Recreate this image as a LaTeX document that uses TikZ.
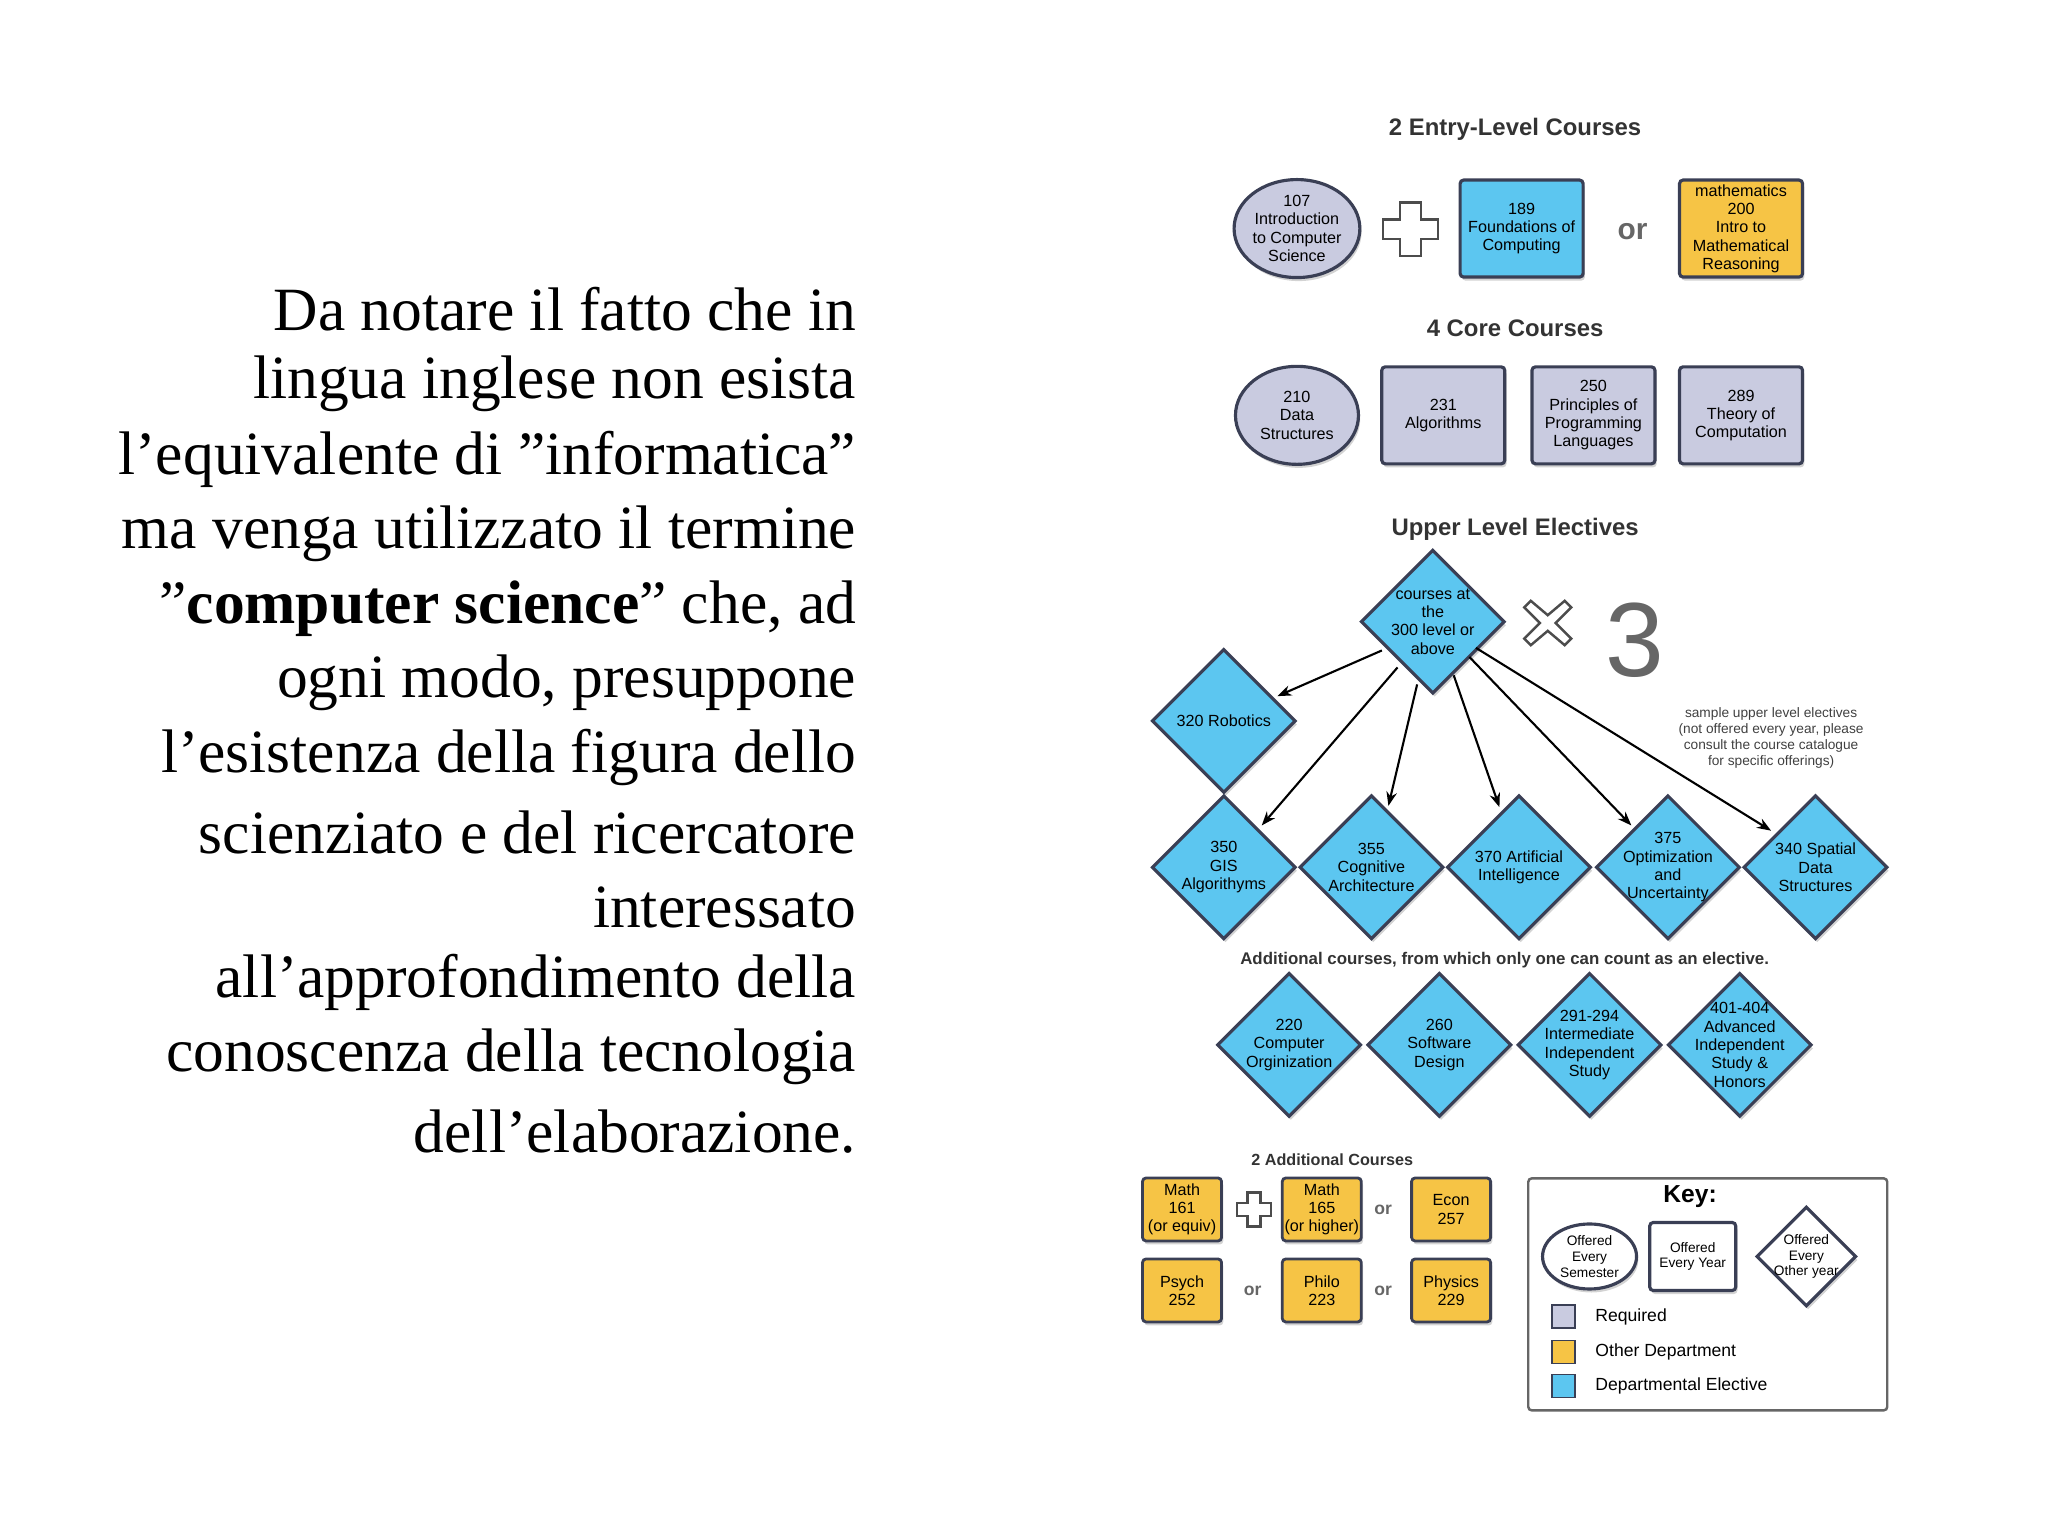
\documentclass[tikz,border=0pt]{standalone}
\usepackage{fontspec}
\setmainfont{Liberation Serif}
\newfontfamily\dsans{Liberation Sans}
\usetikzlibrary{shapes.geometric,shadows,arrows.meta}
\begin{document}
\begin{tikzpicture}[x=0.01306cm,y=-0.01306cm,
 every node/.style={font=\dsans\fontsize{4.6}{5.2}\selectfont,align=center,inner sep=0pt},
 sh/.style={drop shadow={shadow xshift=0.5pt,shadow yshift=-1pt,opacity=0.35}},
 lav/.style={fill=lav},
 blu/.style={fill=blu},
 org/.style={fill=org},
 ell/.style={ellipse,draw=edge,line width=0.9pt,minimum width=1.23cm,minimum height=0.98cm,sh},
 bx/.style={rectangle,rounded corners=1pt,draw=edge,line width=0.9pt,minimum width=1.23cm,minimum height=0.97cm,sh},
 sbx/.style={rectangle,rounded corners=1pt,draw=edge,line width=0.8pt,org,minimum width=0.79cm,minimum height=0.63cm,sh},
 dia/.style={diamond,shape aspect=1,draw=edge,line width=0.9pt,blu,minimum width=1.44cm,minimum height=1.44cm,sh},
 ttl/.style={font=\dsans\bfseries\fontsize{6.8}{8}\selectfont,text=black!80},
 orr/.style={font=\dsans\bfseries\fontsize{8.5}{9}\selectfont,text=black!60},
 sor/.style={font=\dsans\bfseries\fontsize{5}{6}\selectfont,text=black!60},
 plus/.style={draw=black!70,fill=white,line width=0.7pt},
 arr/.style={-{Stealth[length=4pt]},line width=0.6pt},
 big/.style={font=\fontsize{17.5}{21}\selectfont,anchor=east}]
\definecolor{lav}{HTML}{C9CBE0}
\definecolor{blu}{HTML}{5CC6F0}
\definecolor{org}{HTML}{F6C445}
\definecolor{edge}{HTML}{3A3F55}
\useasboundingbox (0,0) rectangle (1568,1175);
% left text
\foreach \t [count=\i from 0] in {Da notare il fatto che in,lingua inglese non esista,l'equivalente di "informatica",ma venga utilizzato il termine,"\textbf{computer science}" che{,} ad,ogni modo{,} presuppone,l'esistenza della figura dello,scienziato e del ricercatore,interessato,all'approfondimento della,conoscenza della tecnologia,dell'elaborazione.}
  \node[big] (L\i) at (656,{237+57.2*\i}) {\t};
% entry-level
\node[ttl] (t1) at (1160,99) {2 Entry-Level Courses};
\node[ell,lav] (c107) at (993,175) {107\\Introduction\\to Computer\\Science};
\path[plus] (1072,155) -- (1088,155) -- (1088,168) -- (1101,168) -- (1101,183) -- (1088,183) -- (1088,196) -- (1072,196) -- (1072,183) -- (1059,183) -- (1059,168) -- (1072,168) -- cycle;
\node[bx,blu] (c189) at (1165,175) {189\\Foundations of\\Computing};
\node[orr] (or1) at (1250,177) {or};
\node[bx,org] (m200) at (1333,175) {mathematics\\200\\Intro to\\Mathematical\\Reasoning};
% core
\node[ttl] (t2) at (1160,251) {4 Core Courses};
\node[ell,lav] (c210) at (993,318) {210\\Data\\Structures};
\node[bx,lav] (c231) at (1105,318) {231\\Algorithms};
\node[bx,lav] (c250) at (1220,318) {250\\Principles of\\Programming\\Languages};
\node[bx,lav] (c289) at (1333,318) {289\\Theory of\\Computation};
% electives
\node[ttl] (t3) at (1160,405) {Upper Level Electives};
\node[dia] (top) at (1097,476) {};
\node at (top) {courses at\\the\\300 level or\\above};
\path[plus] (1172,460) -- (1185,471) -- (1198,460) -- (1203,465) -- (1191,477) -- (1203,489) -- (1198,494) -- (1185,483) -- (1172,494) -- (1167,489) -- (1179,477) -- (1167,465) -- cycle;
\node[font=\dsans\fontsize{30}{30}\selectfont,text=black!60] (three) at (1252,490) {3};
\node[font=\dsans\fontsize{3.9}{4.6}\selectfont,text=black!75] (samp) at (1356,565) {sample upper level electives\\(not offered every year, please\\consult the course catalogue\\for specific offerings)};
\node[dia] (r320) at (937,552) {}; \node at (r320) {320 Robotics};
\node[dia] (r350) at (937,664) {}; \node at (r350) {350\\GIS\\Algorithyms};
\node[dia] (r355) at (1050,664) {}; \node at (r355) {355\\Cognitive\\Architecture};
\node[dia] (r370) at (1163,664) {}; \node at (r370) {370 Artificial\\Intelligence};
\node[dia] (r375) at (1277,664) {}; \node at (r375) {375\\Optimization\\and\\Uncertainty};
\node[dia] (r340) at (1390,664) {}; \node at (r340) {340 Spatial\\Data\\Structures};
\draw[arr] (1058,498) -- (978,533);
\draw[arr] (1070,511) -- (966,632);
\draw[arr] (1085,524) -- (1063,617);
\draw[arr] (1113,517) -- (1148,618);
\draw[arr] (1125,503) -- (1249,632);
\draw[arr] (1130,496) -- (1356,636);
\node[font=\dsans\bfseries\fontsize{4.8}{6}\selectfont,text=black!80] (t4) at (1152,735) {Additional courses, from which only one can count as an elective.};
\node[dia] (r220) at (987,800) {}; \node at (r220) {220\\Computer\\Orginization};
\node[dia] (r260) at (1102,800) {}; \node at (r260) {260\\Software\\Design};
\node[dia] (r291) at (1217,800) {}; \node at (r291) {291-294\\Intermediate\\Independent\\Study};
\node[dia] (r401) at (1332,800) {}; \node at (r401) {401-404\\Advanced\\Independent\\Study \&\\Honors};
% additional
\node[font=\dsans\bfseries\fontsize{4.6}{6}\selectfont,text=black!80] (t5) at (1020,888) {2 Additional Courses};
\node[sbx] (m161) at (905,926) {Math\\161\\(or equiv)};
\path[plus] (955,913) -- (965,913) -- (965,921) -- (973,921) -- (973,931) -- (965,931) -- (965,939) -- (955,939) -- (955,931) -- (947,931) -- (947,921) -- (955,921) -- cycle;
\node[sbx] (m165) at (1012,926) {Math\\165\\(or higher)};
\node[sor] (o2) at (1059,926) {or};
\node[sbx] (e257) at (1111,926) {Econ\\257};
\node[sbx] (p252) at (905,988) {Psych\\252};
\node[sor] (o3) at (959,988) {or};
\node[sbx] (ph223) at (1012,988) {Philo\\223};
\node[sor] (o4) at (1059,988) {or};
\node[sbx] (p229) at (1111,988) {Physics\\229};
% key
\node[draw=black!60,line width=0.7pt,rounded corners=1pt,minimum width=3.59cm,minimum height=2.32cm] (key) at (1307.5,991) {};
\node[font=\dsans\bfseries\fontsize{7}{8}\selectfont] (kt) at (1294,916) {Key:};
\node[ell,fill=white,minimum width=0.94cm,minimum height=0.65cm,font=\dsans\fontsize{3.9}{4.5}\selectfont] (k1) at (1217,962) {Offered\\Every\\Semester};
\node[bx,fill=white,minimum width=0.86cm,minimum height=0.68cm,font=\dsans\fontsize{3.9}{4.5}\selectfont] (k2) at (1296,962) {Offered\\Every Year};
\node[dia,fill=white,minimum width=1cm,minimum height=1cm] (k3) at (1383,962) {};
\node[font=\dsans\fontsize{3.9}{4.5}\selectfont] at (k3) {Offered\\Every\\Other year};
\node[draw=edge,lav,minimum size=0.23cm] (s1) at (1197,1008) {};
\node[draw=edge,org,minimum size=0.23cm] (s2) at (1197,1035) {};
\node[draw=edge,blu,minimum size=0.23cm] (s3) at (1197,1061) {};
\node[anchor=west,font=\dsans\fontsize{5}{6}\selectfont] at (1221,1008) {Required};
\node[anchor=west,font=\dsans\fontsize{5}{6}\selectfont] at (1221,1035) {Other Department};
\node[anchor=west,font=\dsans\fontsize{5}{6}\selectfont] at (1221,1061) {Departmental Elective};
\end{tikzpicture}
\end{document}
